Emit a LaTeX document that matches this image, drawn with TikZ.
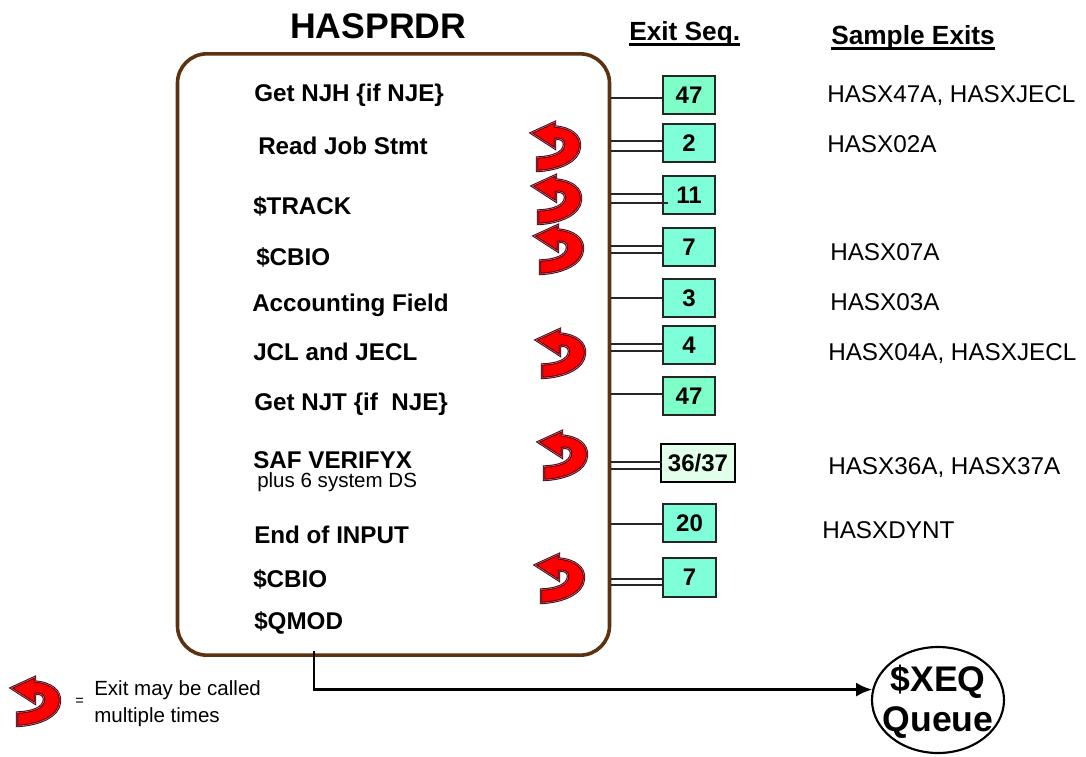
\documentclass[tikz,border=0pt]{standalone}
\usepackage{fontspec}
\setmainfont{Liberation Sans}
\usetikzlibrary{arrows.meta,shapes.geometric}
\definecolor{brownline}{HTML}{5C3210}
\definecolor{aquabox}{HTML}{7FFFD9}
\definecolor{greenbox}{HTML}{7FFFC8}
\definecolor{paleb}{HTML}{E2FFE9}
\definecolor{darkred}{HTML}{3A0008}
\definecolor{pinkred}{HTML}{D8506A}
\tikzset{
  x=0.75pt,y=-0.75pt,
  title/.style={anchor=base west,inner sep=0,font=\bfseries\fontsize{26.7}{30}\selectfont},
  head/.style={anchor=base west,inner sep=0,font=\bfseries\fontsize{19.7}{23}\selectfont},
  item/.style={anchor=base west,inner sep=0,font=\bfseries\fontsize{18.15}{21}\selectfont},
  sample/.style={anchor=base west,inner sep=0,font=\fontsize{18.2}{21}\selectfont},
  small/.style={anchor=base west,inner sep=0,font=\fontsize{15.4}{18}\selectfont},
  exitbox/.style={draw=black!85,line width=1.5pt,fill=aquabox,inner sep=0,minimum width=39.5pt,minimum height=29pt,font=\bfseries\fontsize{18}{21}\selectfont},
  lnk/.style={draw=black!85,line width=1.2pt},
  ul/.style={line width=1.6pt},
  pics/curl/.style={code={
    \draw[fill=red,draw=darkred,line width=0.6pt,double=pinkred,double distance=0.55pt,line join=miter]
      (1,0) -- (25,-11) -- (25,-6.5)
      .. controls (42,-5) and (51,3) .. (50,14)
      .. controls (49,28) and (30,37) .. (7,38)
      -- (7,24.5)
      .. controls (22,24) and (34,20) .. (34,11)
      .. controls (34,7) and (30,5) .. (25,6)
      -- (25,15.5) -- cycle;
  }}
}
\begin{document}
\begin{tikzpicture}
\useasboundingbox (0,0) rectangle (1086,757);
\node[draw=brownline,line width=2.7pt,rounded corners=22pt,minimum width=324pt,minimum height=451pt,inner sep=0] (main) at (393.5,354.5) {};
\node[title] (ttl) at (290,38) {HASPRDR};
\node[head] (hseq) at (629,40) {Exit Seq.};
\node[head] (hsam) at (831,44) {Sample Exits};
\draw[ul] ([yshift=-3.4pt]hseq.base west) -- ([yshift=-3.4pt]hseq.base east);
\draw[ul] ([yshift=-3.4pt]hsam.base west) -- ([yshift=-3.4pt]hsam.base east);

\node[item] (t1) at (254,101) {Get NJH \{if NJE\}};
\node[item] (t2) at (258,154) {Read Job Stmt};
\node[item] (t3) at (253,214) {\$TRACK};
\node[item] (t4) at (256,265) {\$CBIO};
\node[item] (t5) at (252,311) {Accounting Field};
\node[item] (t6) at (253,360) {JCL and JECL};
\node[item] (t7) at (254,410) {Get NJT \{if~~NJE\}};
\node[item] (t8) at (253,468) {SAF VERIFYX};
\node[small] (t8b) at (257,487) {plus 6 system DS};
\node[item] (t9) at (254,543) {End of INPUT};
\node[item] (t10) at (253,587) {\$CBIO};
\node[item] (t11) at (254,629) {\$QMOD};

\node[exitbox,fill=greenbox] (b1) at (689,95) {47};
\node[exitbox] (b2) at (689,143) {2};
\node[exitbox] (b3) at (689,195) {11};
\node[exitbox] (b4) at (689,247) {7};
\node[exitbox] (b5) at (689,298) {3};
\node[exitbox] (b6) at (689,345) {4};
\node[exitbox,fill=greenbox] (b7) at (689,396) {47};
\node[exitbox,fill=paleb,draw=black,minimum width=56pt] (b8) at (698,463) {36/37};
\node[exitbox] (b9) at (689.5,523) {20};
\node[exitbox] (b10) at (689.5,577.5) {7};

\draw[lnk] (main.east |- 0,98) -- (b1.west |- 0,98);
\draw[lnk] (main.east |- 0,141) -- (b2.west |- 0,141);
\draw[lnk] (main.east |- 0,151) -- (b2.west |- 0,151);
\draw[lnk] (main.east |- 0,194) -- (b3.west |- 0,194);
\draw[lnk] (main.east |- 0,203) -- ([xshift=4.5pt]b3.west |- 0,203);
\draw[lnk] (main.east |- 0,246) -- (b4.west |- 0,246);
\draw[lnk] (main.east |- 0,253) -- ([xshift=2pt]b4.west |- 0,253);
\draw[lnk] (main.east |- 0,298) -- (b5.west);
\draw[lnk] (main.east |- 0,344) -- (b6.west |- 0,344);
\draw[lnk] (main.east |- 0,351) -- (b6.west |- 0,351);
\draw[lnk] (main.east |- 0,394) -- (b7.west |- 0,394);
\draw[lnk] (main.east |- 0,462) -- ([xshift=2pt]b8.west |- 0,462);
\draw[lnk] (main.east |- 0,469) -- ([xshift=2pt]b8.west |- 0,469);
\draw[lnk] (main.east |- 0,524) -- (b9.west |- 0,524);
\draw[lnk] (main.east |- 0,579) -- (b10.west |- 0,579);
\draw[lnk] (main.east |- 0,585) -- (b10.west |- 0,585);

\pic at (530,133) {curl};
\pic at (531,186) {curl};
\pic at (533,236) {curl};
\pic at (535,340) {curl};
\pic at (537,442) {curl};
\pic at (534,565) {curl};
\pic at (10,688) {curl};

\node[sample] (s1) at (827,102) {HASX47A, HASXJECL};
\node[sample] (s2) at (827,152) {HASX02A};
\node[sample] (s4) at (830,260) {HASX07A};
\node[sample] (s5) at (830,310) {HASX03A};
\node[sample] (s6) at (828,360) {HASX04A, HASXJECL};
\node[sample] (s8) at (828,474) {HASX36A, HASX37A};
\node[sample] (s9) at (822,538) {HASXDYNT};

\node[anchor=base west,inner sep=0,font=\fontsize{11}{12}\selectfont] (eq) at (75,705) {=};
\node[small] (l1) at (94,695) {Exit may be called};
\node[small] (l2) at (94,722) {multiple times};

\node[ellipse,draw=black,line width=1.6pt,minimum width=99pt,minimum height=79.5pt,inner sep=0] (xeq) at (938,700) {};
\node[title,anchor=base] (xt1) at (938,691) {\$XEQ};
\node[title,anchor=base] (xt2) at (938,731) {Queue};
\coordinate (start) at (314,651);
\draw[line width=2pt,-{Latex[length=12pt,width=10.5pt]}] (start) |- (xeq.171.5);
\end{tikzpicture}
\end{document}
